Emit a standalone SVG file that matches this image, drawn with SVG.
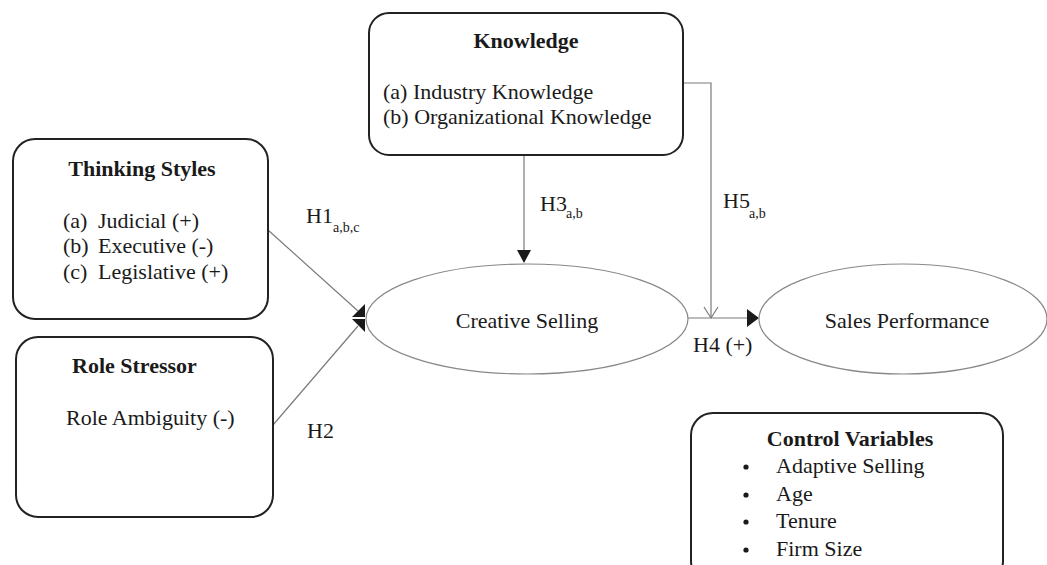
<svg xmlns="http://www.w3.org/2000/svg" width="1047" height="565" viewBox="0 0 1047 565">
<style>
.box{fill:#fff;stroke:#222;stroke-width:2}
.ell{fill:#fff;stroke:#888;stroke-width:1.2}
.con{fill:none;stroke:#7a7a7a;stroke-width:1.2}
.head{fill:#1a1a1a;stroke:none}
text{font-family:"Liberation Serif","Times New Roman",serif;fill:#1a1a1a;font-size:22px}
.b{font-weight:bold}
.sub{font-size:14px}
</style>
<rect width="1047" height="565" fill="#fff"/>
<g id="connectors">
<line class="con" x1="268" y1="230" x2="358" y2="311"/>
<line class="con" x1="273" y1="425" x2="358" y2="326"/>
<polygon class="head" points="365,304 352,317 365,317"/>
<polygon class="head" points="352,319 365,319 365,332"/>
<line class="con" x1="524" y1="155" x2="524" y2="252"/>
<polygon class="head" points="517,250 531,250 524,263"/>
<polyline class="con" points="683,83 711,83 711,318"/>
<polyline class="con" points="704,307 711,318 718,307"/>
<line class="con" x1="688" y1="318" x2="748" y2="318"/>
<polygon class="head" points="747,309 759,318 747,327"/>
</g>
<g id="thinking-styles">
<rect class="box" x="13" y="139" width="255" height="180" rx="22"/>
<text class="b" x="142" y="176" text-anchor="middle">Thinking Styles</text>
<text x="63" y="228">(a)</text><text x="98" y="228">Judicial (+)</text>
<text x="63" y="253">(b)</text><text x="98" y="253">Executive (-)</text>
<text x="63" y="279">(c)</text><text x="98" y="279">Legislative (+)</text>
</g>
<g id="role-stressor">
<rect class="box" x="16" y="337" width="257" height="180" rx="22"/>
<text class="b" x="72" y="373">Role Stressor</text>
<text x="66" y="425">Role Ambiguity (-)</text>
</g>
<g id="knowledge">
<rect class="box" x="369" y="13" width="314" height="142" rx="20"/>
<text class="b" x="526" y="48" text-anchor="middle">Knowledge</text>
<text x="383" y="99">(a) Industry Knowledge</text>
<text x="383" y="124">(b) Organizational Knowledge</text>
</g>
<g id="creative-selling">
<ellipse class="ell" cx="527" cy="319" rx="161" ry="55"/>
<text x="527" y="328" text-anchor="middle">Creative Selling</text>
</g>
<g id="sales-performance">
<ellipse class="ell" cx="903" cy="319" rx="144" ry="55"/>
<text x="907" y="328" text-anchor="middle">Sales Performance</text>
</g>
<g id="control-variables">
<rect class="box" x="691" y="413" width="312" height="170" rx="22"/>
<text class="b" x="850" y="446" text-anchor="middle">Control Variables</text>
<circle cx="746" cy="467" r="2.6" fill="#1a1a1a"/><text x="776" y="473">Adaptive Selling</text>
<circle cx="746" cy="495" r="2.6" fill="#1a1a1a"/><text x="776" y="501">Age</text>
<circle cx="746" cy="522" r="2.6" fill="#1a1a1a"/><text x="776" y="528">Tenure</text>
<circle cx="746" cy="550" r="2.6" fill="#1a1a1a"/><text x="776" y="556">Firm Size</text>
</g>
<g id="labels">
<text x="306" y="223">H1</text><text class="sub" x="333" y="232">a,b,c</text>
<text x="307" y="438">H2</text>
<text x="540" y="211">H3</text><text class="sub" x="566" y="218">a,b</text>
<text x="693" y="352">H4 (+)</text>
<text x="723" y="208">H5</text><text class="sub" x="749" y="218">a,b</text>
</g>
</svg>
